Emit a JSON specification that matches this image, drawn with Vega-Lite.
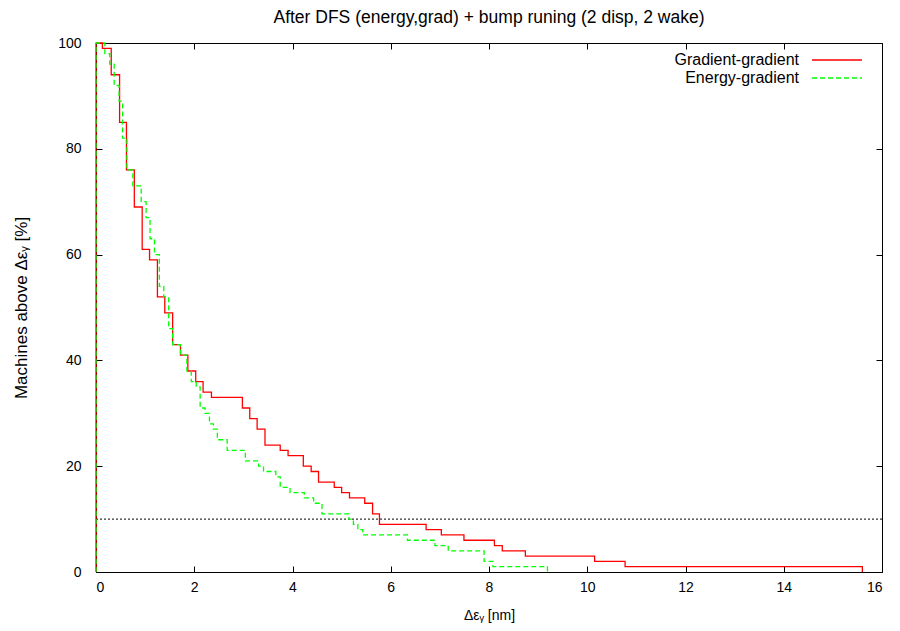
{
  "$schema": "https://vega.github.io/schema/vega-lite/v6.json",
  "width": 786,
  "height": 529,
  "autosize": {"type": "none"},
  "padding": {"left": 96, "top": 43, "right": 18, "bottom": 59},
  "background": "white",
  "config": {
    "view": {"stroke": "black", "strokeWidth": 1},
    "font": "Liberation Sans",
    "axis": {
      "grid": false,
      "domain": false,
      "tickSize": -6,
      "tickColor": "black",
      "tickWidth": 1,
      "labelFontSize": 14,
      "labelColor": "black",
      "labelFont": "Liberation Sans",
      "titleFontSize": 14,
      "titleFontWeight": "normal",
      "titleColor": "black",
      "titleFont": "Liberation Sans"
    }
  },
  "title": {
    "text": "After DFS (energy,grad) + bump runing (2 disp, 2 wake)",
    "fontSize": 17.5,
    "fontWeight": "normal",
    "font": "Liberation Sans",
    "color": "black",
    "anchor": "middle",
    "offset": 10
  },
  "datasets": {
    "curves": [
      {"series": "Gradient-gradient", "x": 0, "y": 0},
      {"series": "Gradient-gradient", "x": 0, "y": 100},
      {"series": "Gradient-gradient", "x": 0.13, "y": 99},
      {"series": "Gradient-gradient", "x": 0.31, "y": 94},
      {"series": "Gradient-gradient", "x": 0.48, "y": 85},
      {"series": "Gradient-gradient", "x": 0.62, "y": 76},
      {"series": "Gradient-gradient", "x": 0.78, "y": 69},
      {"series": "Gradient-gradient", "x": 0.94, "y": 61},
      {"series": "Gradient-gradient", "x": 1.09, "y": 59},
      {"series": "Gradient-gradient", "x": 1.25, "y": 52},
      {"series": "Gradient-gradient", "x": 1.40, "y": 49},
      {"series": "Gradient-gradient", "x": 1.56, "y": 43},
      {"series": "Gradient-gradient", "x": 1.72, "y": 41},
      {"series": "Gradient-gradient", "x": 1.87, "y": 38},
      {"series": "Gradient-gradient", "x": 2.03, "y": 36},
      {"series": "Gradient-gradient", "x": 2.18, "y": 34},
      {"series": "Gradient-gradient", "x": 2.35, "y": 33},
      {"series": "Gradient-gradient", "x": 2.98, "y": 31},
      {"series": "Gradient-gradient", "x": 3.13, "y": 29},
      {"series": "Gradient-gradient", "x": 3.28, "y": 27},
      {"series": "Gradient-gradient", "x": 3.44, "y": 24},
      {"series": "Gradient-gradient", "x": 3.75, "y": 23},
      {"series": "Gradient-gradient", "x": 3.91, "y": 22},
      {"series": "Gradient-gradient", "x": 4.22, "y": 20},
      {"series": "Gradient-gradient", "x": 4.38, "y": 19},
      {"series": "Gradient-gradient", "x": 4.53, "y": 17},
      {"series": "Gradient-gradient", "x": 4.85, "y": 16},
      {"series": "Gradient-gradient", "x": 5.00, "y": 15},
      {"series": "Gradient-gradient", "x": 5.16, "y": 14},
      {"series": "Gradient-gradient", "x": 5.47, "y": 13},
      {"series": "Gradient-gradient", "x": 5.63, "y": 11},
      {"series": "Gradient-gradient", "x": 5.77, "y": 9},
      {"series": "Gradient-gradient", "x": 6.72, "y": 8},
      {"series": "Gradient-gradient", "x": 7.03, "y": 7},
      {"series": "Gradient-gradient", "x": 7.49, "y": 6},
      {"series": "Gradient-gradient", "x": 8.11, "y": 5},
      {"series": "Gradient-gradient", "x": 8.27, "y": 4},
      {"series": "Gradient-gradient", "x": 8.74, "y": 3},
      {"series": "Gradient-gradient", "x": 10.15, "y": 2},
      {"series": "Gradient-gradient", "x": 10.77, "y": 1},
      {"series": "Gradient-gradient", "x": 15.60, "y": 0},
      {"series": "Energy-gradient", "x": 0, "y": 0},
      {"series": "Energy-gradient", "x": 0, "y": 100},
      {"series": "Energy-gradient", "x": 0.18, "y": 98},
      {"series": "Energy-gradient", "x": 0.28, "y": 96},
      {"series": "Energy-gradient", "x": 0.37, "y": 92},
      {"series": "Energy-gradient", "x": 0.47, "y": 89},
      {"series": "Energy-gradient", "x": 0.54, "y": 82},
      {"series": "Energy-gradient", "x": 0.63, "y": 76},
      {"series": "Energy-gradient", "x": 0.75, "y": 73},
      {"series": "Energy-gradient", "x": 0.92, "y": 70},
      {"series": "Energy-gradient", "x": 1.02, "y": 67},
      {"series": "Energy-gradient", "x": 1.10, "y": 63},
      {"series": "Energy-gradient", "x": 1.19, "y": 60},
      {"series": "Energy-gradient", "x": 1.29, "y": 54},
      {"series": "Energy-gradient", "x": 1.38, "y": 52},
      {"series": "Energy-gradient", "x": 1.48, "y": 46},
      {"series": "Energy-gradient", "x": 1.56, "y": 43},
      {"series": "Energy-gradient", "x": 1.72, "y": 41},
      {"series": "Energy-gradient", "x": 1.85, "y": 38},
      {"series": "Energy-gradient", "x": 1.94, "y": 36},
      {"series": "Energy-gradient", "x": 2.04, "y": 35},
      {"series": "Energy-gradient", "x": 2.12, "y": 31},
      {"series": "Energy-gradient", "x": 2.22, "y": 30},
      {"series": "Energy-gradient", "x": 2.31, "y": 28},
      {"series": "Energy-gradient", "x": 2.39, "y": 27},
      {"series": "Energy-gradient", "x": 2.47, "y": 25},
      {"series": "Energy-gradient", "x": 2.67, "y": 23},
      {"series": "Energy-gradient", "x": 3.04, "y": 21},
      {"series": "Energy-gradient", "x": 3.31, "y": 20},
      {"series": "Energy-gradient", "x": 3.41, "y": 19},
      {"series": "Energy-gradient", "x": 3.66, "y": 18},
      {"series": "Energy-gradient", "x": 3.75, "y": 16},
      {"series": "Energy-gradient", "x": 3.95, "y": 15},
      {"series": "Energy-gradient", "x": 4.24, "y": 14},
      {"series": "Energy-gradient", "x": 4.43, "y": 13},
      {"series": "Energy-gradient", "x": 4.60, "y": 11},
      {"series": "Energy-gradient", "x": 5.15, "y": 10},
      {"series": "Energy-gradient", "x": 5.24, "y": 9},
      {"series": "Energy-gradient", "x": 5.33, "y": 8},
      {"series": "Energy-gradient", "x": 5.43, "y": 7},
      {"series": "Energy-gradient", "x": 6.34, "y": 6},
      {"series": "Energy-gradient", "x": 6.90, "y": 5},
      {"series": "Energy-gradient", "x": 7.17, "y": 4},
      {"series": "Energy-gradient", "x": 7.90, "y": 2},
      {"series": "Energy-gradient", "x": 8.08, "y": 1},
      {"series": "Energy-gradient", "x": 9.19, "y": 0}
    ]
  },
  "layer": [
    {
      "data": {"values": [{}]},
      "mark": {"type": "rule", "color": "black", "strokeWidth": 1, "strokeDash": [2, 2]},
      "encoding": {
        "y": {"datum": 10, "type": "quantitative", "scale": {"domain": [0, 100]}, "axis": null}
      }
    },
    {
      "data": {"name": "curves"},
      "mark": {"type": "line", "interpolate": "step-after", "strokeWidth": 1.3},
      "encoding": {
        "x": {
          "field": "x", "type": "quantitative",
          "scale": {"domain": [0, 16], "nice": false},
          "axis": {"orient": "bottom", "values": [0, 2, 4, 6, 8, 10, 12, 14, 16], "title": "Δεᵧ [nm]", "labelPadding": 14, "titlePadding": 14}
        },
        "y": {
          "field": "y", "type": "quantitative",
          "scale": {"domain": [0, 100], "nice": false},
          "axis": {"orient": "left", "values": [0, 20, 40, 60, 80, 100], "title": "Machines above Δεᵧ [%]", "titleFontSize": 17, "labelPadding": 21, "titlePadding": 27}
        },
        "color": {
          "field": "series", "type": "nominal",
          "scale": {"domain": ["Gradient-gradient", "Energy-gradient"], "range": ["#ff0000", "#00ff00"]},
          "legend": {
            "title": null, "orient": "none", "legendX": 733, "legendY": 9,
            "symbolType": "M-5,0H5", "symbolSize": 100, "symbolStrokeWidth": 1.3, "symbolFillColor": "transparent",
            "labelAlign": "right", "labelOffset": -46, "labelFontSize": 16, "labelColor": "black",
            "labelFont": "Liberation Sans", "rowPadding": 2, "padding": 0, "labelLimit": 300
          }
        },
        "strokeDash": {
          "field": "series", "type": "nominal",
          "scale": {"domain": ["Gradient-gradient", "Energy-gradient"], "range": [[1, 0], [5, 3]]},
          "legend": {
            "title": null, "orient": "none", "legendX": 733, "legendY": 9,
            "symbolType": "M-5,0H5", "symbolSize": 100, "symbolStrokeWidth": 1.3, "symbolFillColor": "transparent",
            "labelAlign": "right", "labelOffset": -46, "labelFontSize": 16, "labelColor": "black",
            "labelFont": "Liberation Sans", "rowPadding": 2, "padding": 0, "labelLimit": 300
          }
        }
      }
    },
    {
      "data": {"name": "curves"},
      "mark": {"type": "point", "opacity": 0},
      "encoding": {
        "x": {
          "field": "x", "type": "quantitative",
          "scale": {"domain": [0, 16], "nice": false},
          "axis": {"orient": "top", "values": [0, 2, 4, 6, 8, 10, 12, 14, 16], "labels": false, "title": null}
        },
        "y": {
          "field": "y", "type": "quantitative",
          "scale": {"domain": [0, 100], "nice": false},
          "axis": {"orient": "right", "values": [0, 20, 40, 60, 80, 100], "labels": false, "title": null}
        }
      }
    }
  ],
  "resolve": {"axis": {"x": "independent", "y": "independent"}}
}
